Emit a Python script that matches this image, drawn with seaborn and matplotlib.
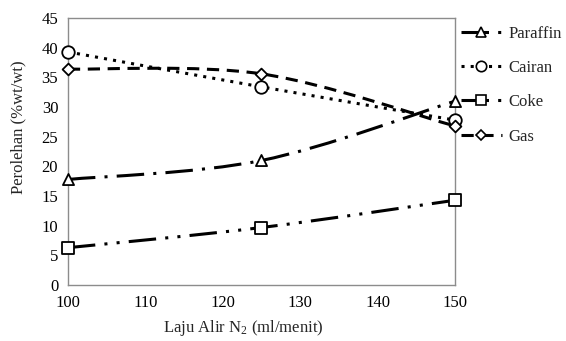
import numpy as np
import pandas as pd
import seaborn as sns
import matplotlib
matplotlib.use("Agg")
import matplotlib.pyplot as plt
from matplotlib.path import Path
from matplotlib.patches import PathPatch
from matplotlib.lines import Line2D

# ---- data ----
laju_alir = [100, 125, 150]
paraffin = [17.8, 21.0, 31.0]
cairan = [39.3, 33.4, 27.8]
coke = [6.3, 9.7, 14.3]
gas = [36.4, 35.6, 26.8]
series_names = ["Paraffin", "Cairan", "Coke", "Gas"]
x_ticks = [100, 110, 120, 130, 140, 150]
y_ticks = [0, 5, 10, 15, 20, 25, 30, 35, 40, 45]

sns.set_theme(style="white")
plt.rcParams["font.family"] = ["Liberation Serif", "DejaVu Serif"]
plt.rcParams["mathtext.fontset"] = "custom"
plt.rcParams["mathtext.rm"] = "Liberation Serif"
plt.rcParams["mathtext.it"] = "Liberation Serif:italic"

df = pd.DataFrame({
    "x": laju_alir * 4,
    "y": paraffin + cairan + coke + gas,
    "seri": sum([[n] * 3 for n in series_names], []),
})

styles = {
    "Paraffin": dict(marker="^", dashes=(9, 3, 1, 3)),
    "Cairan": dict(marker="o", dashes=(1, 2)),
    "Coke": dict(marker="s", dashes=(9, 3, 1, 3, 1, 3)),
    "Gas": dict(marker="D", dashes=(4, 2.5)),
}
msize = {"Paraffin": 8, "Cairan": 9, "Coke": 9, "Gas": 6}
lsize = {"Paraffin": 7, "Cairan": 7.5, "Coke": 7.5, "Gas": 5.5}

fig = plt.figure(figsize=(5.66, 3.41), dpi=100)
ax = fig.add_axes([0.120, 0.164, 0.684, 0.783])

gray = "#8c8c8c"
lw = 2.2
fs = 12


def smooth_path(xs, ys):
    pts = np.column_stack([xs, ys]).astype(float)
    n = len(pts)
    verts = [pts[0]]
    codes = [Path.MOVETO]
    for i in range(n - 1):
        p0 = pts[i - 1] if i > 0 else pts[i]
        p1 = pts[i]
        p2 = pts[i + 1]
        p3 = pts[i + 2] if i + 2 < n else pts[i + 1]
        c1 = p1 + (p2 - p0) / 6.0
        c2 = p2 - (p3 - p1) / 6.0
        verts += [c1, c2, p2]
        codes += [Path.CURVE4] * 3
    return Path(verts, codes)


handles = []
for name in series_names:
    sub = df[df["seri"] == name]
    st = styles[name]
    patch = PathPatch(smooth_path(sub["x"], sub["y"]), facecolor="none",
                      edgecolor="black", lw=lw, linestyle=(0, st["dashes"]),
                      capstyle="butt", zorder=2)
    ax.add_patch(patch)
    sns.scatterplot(data=sub, x="x", y="y", marker=st["marker"], s=msize[name] ** 2,
                    facecolor="white", edgecolor="black", linewidth=1.3,
                    ax=ax, zorder=3, clip_on=False, legend=False)
    handles.append(Line2D([], [], color="black", lw=lw, linestyle=(0, st["dashes"]),
                          marker=st["marker"], markersize=lsize[name],
                          markerfacecolor="white", markeredgecolor="black",
                          markeredgewidth=1.2))

ax.set_xlim(100, 150)
ax.set_ylim(0, 45)
ax.set_xticks(x_ticks)
ax.set_yticks(y_ticks)
ax.tick_params(axis="both", labelsize=fs, colors="black", length=4, width=1,
               color=gray, direction="out", pad=3)
for sp in ax.spines.values():
    sp.set_visible(True)
    sp.set_color(gray)
    sp.set_linewidth(1)
ax.set_xlabel("Laju Alir N$_2$ (ml/menit)", fontsize=fs)
ax.set_ylabel("Perolehan (%wt/wt)", fontsize=fs)
ax.xaxis.set_label_coords(0.452, -0.122)
ax.yaxis.set_label_coords(-0.108, 0.59)

fig.legend(handles, series_names, loc="upper left", bbox_to_anchor=(0.814, 0.925),
           frameon=False, fontsize=fs, handlelength=2.45, labelspacing=1.1,
           handletextpad=0.4, borderaxespad=0, borderpad=0)

fig.savefig("out.png", dpi=100)
